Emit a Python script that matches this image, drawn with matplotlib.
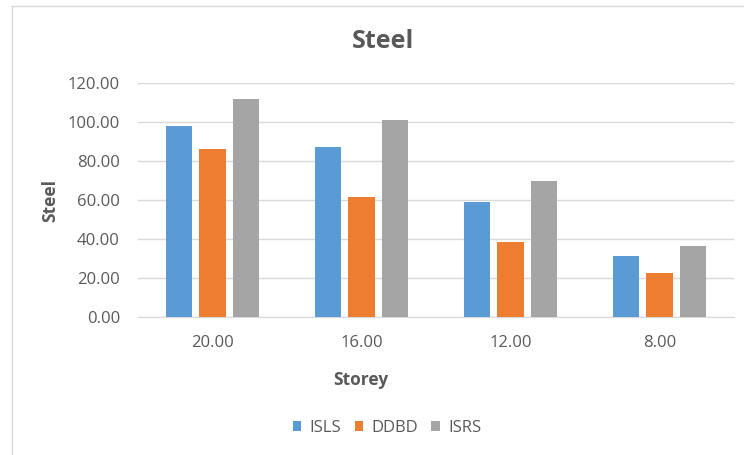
import numpy as np
import matplotlib.pyplot as plt
from matplotlib.lines import Line2D

storeys = ["20.00", "16.00", "12.00", "8.00"]
isls = [98.0, 87.0, 59.2, 31.2]
ddbd = [86.0, 61.6, 38.4, 22.5]
isrs = [111.6, 101.0, 70.0, 36.3]
series_names = ["ISLS", "DDBD", "ISRS"]
colors = ["#5b9bd5", "#ed7d31", "#a5a5a5"]

plt.rcParams['font.family'] = ['Open Sans', 'DejaVu Sans']
text_col = "#595959"

fig = plt.figure(figsize=(7.44, 4.55), dpi=100)
W, H = 744, 455
ax = fig.add_axes([138 / W, (H - 317) / H, (734 - 138) / W, (317 - 83) / H])

x = np.arange(len(storeys))
width = 0.175
step = 0.222
for i, (vals, name, col) in enumerate(zip([isls, ddbd, isrs], series_names, colors)):
    ax.bar(x + (i - 1) * step, vals, width, color=col, label=name, zorder=3)

ax.set_xlim(-0.5, 3.5)
ax.set_ylim(0, 120)
ax.set_yticks(np.arange(0, 121, 20))
ax.set_yticklabels([f"{v:.2f}" for v in np.arange(0, 121, 20)])
ax.set_xticks(x)
ax.set_xticklabels(storeys)
ax.grid(axis='y', color='#d9d9d9', linewidth=1, zorder=0)
for s in ['top', 'right', 'left']:
    ax.spines[s].set_visible(False)
ax.spines['bottom'].set_color('#d9d9d9')
ax.tick_params(length=0, colors=text_col, labelsize=12)
ax.tick_params(axis='y', pad=13)
ax.tick_params(axis='x', pad=13)

# axis titles placed where the reference has them
fig.text(361 / W, 1 - 380 / H, "Storey", ha='center', va='center', fontsize=12.5,
         fontweight='bold', color=text_col)
fig.text(50 / W, 1 - 200 / H, "Steel", ha='center', va='center', rotation=90,
         fontsize=12.5, fontweight='bold', color=text_col)
fig.text(383 / W, 1 - 42 / H, "Steel", ha='center', va='center', fontsize=18,
         fontweight='bold', color=text_col)

fig.legend(loc='center', bbox_to_anchor=(387 / W, 1 - 428 / H), ncol=3, frameon=False,
           fontsize=12, handlelength=0.5, handleheight=0.5, handletextpad=0.5,
           columnspacing=0.8, labelcolor=text_col)

# chart border (left and top edges visible)
fig.add_artist(Line2D([12 / W, 12 / W], [0, 1 - 6 / H], transform=fig.transFigure, color='#d9d9d9', lw=1))
fig.add_artist(Line2D([12 / W, 1], [1 - 6 / H, 1 - 6 / H], transform=fig.transFigure, color='#d9d9d9', lw=1))

plt.savefig('out.png', dpi=100)
